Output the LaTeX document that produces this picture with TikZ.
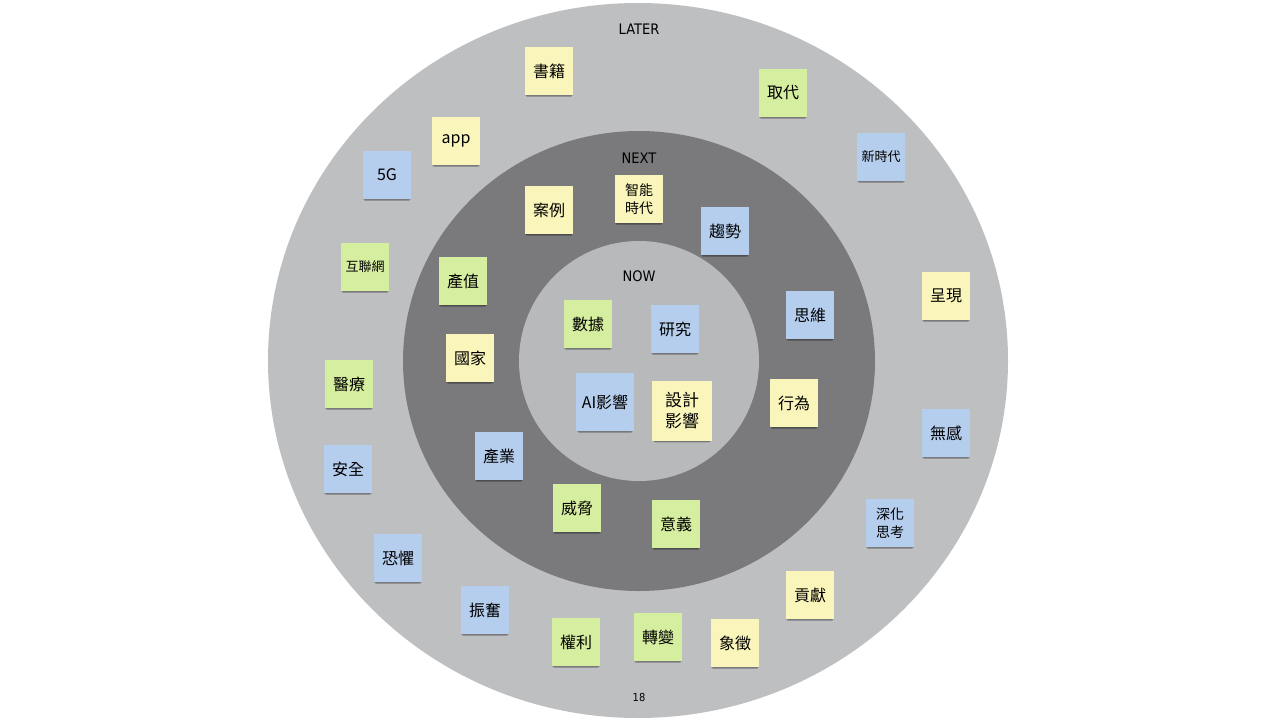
\documentclass[tikz,border=0pt]{standalone}
\usepackage{fontspec}
\setmainfont{Liberation Sans}
\newfontfamily\cjk{Noto Sans CJK TC}
\newfontfamily\lab{DejaVu Sans Condensed}
\usetikzlibrary{shadows}
\definecolor{ringout}{RGB}{190,191,193}
\definecolor{ringmid}{RGB}{122,122,124}
\definecolor{ringin}{RGB}{184,185,187}
\definecolor{noteY}{RGB}{250,246,187}
\definecolor{noteG}{RGB}{214,238,160}
\definecolor{noteB}{RGB}{182,206,238}
\tikzset{
  note/.style={rectangle, minimum width=48pt, minimum height=48pt, inner sep=0pt,
    align=center, font=\cjk\fontsize{16}{19}\selectfont,
    general shadow={shadow xshift=0pt, shadow yshift=-5pt, shadow scale=0.9, opacity=0.10, fill=black},
    general shadow={shadow xshift=0pt, shadow yshift=-3.5pt, shadow scale=0.94, opacity=0.14, fill=black},
    general shadow={shadow xshift=0pt, shadow yshift=-2pt, shadow scale=0.98, opacity=0.16, fill=black}},
  ny/.style={note, fill=noteY},
  ng/.style={note, fill=noteG},
  nb/.style={note, fill=noteB},
  small/.style={font=\cjk\fontsize{13}{17}\selectfont},
  two/.style={font=\cjk\fontsize{14}{18}\selectfont},
  ringlabel/.style={font=\lab\fontsize{14.5}{16}\selectfont, text=black}
}
\begin{document}
\begin{tikzpicture}[x=1pt,y=-1pt]
\useasboundingbox (0,0) rectangle (1280,720);
\fill[white] (0,0) rectangle (1280,720);
\fill[ringout] (638,360.5) ellipse [x radius=370, y radius=357.5];
\fill[ringmid] (639,361) ellipse [x radius=236, y radius=230];
\fill[ringin] (639,361) ellipse [x radius=120, y radius=120];

\node[ringlabel] (later) at (639,29) {LATER};
\node[ringlabel] (next) at (639,158) {NEXT};
\node[ringlabel] (now) at (639,276) {NOW};
\node[font=\lab\fontsize{11}{13}\selectfont] (page) at (639,697) {18};

% outer ring
\node[ny] (shuji) at (549,71) {書籍};
\node[ng] (qudai) at (783,93) {取代};
\node[ny] (app) at (456,141) {app};
\node[nb,small] (xinshidai) at (881,157) {新時代};
\node[nb] (fiveg) at (387,175) {5G};
\node[ng,small] (hulianwang) at (365,267) {互聯網};
\node[ny] (chengxian) at (946,296) {呈現};
\node[ng] (yiliao) at (349,384) {醫療};
\node[nb] (wugan) at (946,433) {無感};
\node[nb] (anquan) at (348,469) {安全};
\node[nb,two] (shenhua) at (890,523) {深化\\思考};
\node[nb] (kongju) at (398,558) {恐懼};
\node[ny] (gongxian) at (810,595) {貢獻};
\node[nb] (zhenfen) at (485,610) {振奮};
\node[ng] (quanli) at (576,642) {權利};
\node[ng] (zhuanbian) at (658,637) {轉變};
\node[ny] (xiangzheng) at (735,643) {象徵};

% middle ring
\node[ny] (anli) at (549,210) {案例};
\node[ny,two] (zhineng) at (639,199) {智能\\時代};
\node[nb] (qushi) at (725,231) {趨勢};
\node[ng] (chanzhi) at (463,281) {產值};
\node[nb] (siwei) at (810,315) {思維};
\node[ny] (guojia) at (470,358) {國家};
\node[ny] (xingwei) at (794,403) {行為};
\node[nb] (chanye) at (499,456) {產業};
\node[ng] (weixie) at (577,508) {威脅};
\node[ng] (yiyi) at (676,524) {意義};

% inner
\node[ng] (shuju) at (588,324) {數據};
\node[nb] (yanjiu) at (675,329) {研究};
\node[nb, minimum width=58pt, minimum height=58pt] (aiyx) at (605,402) {AI影響};
\node[ny, minimum width=60pt, minimum height=60pt, font=\cjk\fontsize{17}{21}\selectfont] (sjyx) at (682,411) {設計\\影響};
\end{tikzpicture}
\end{document}
